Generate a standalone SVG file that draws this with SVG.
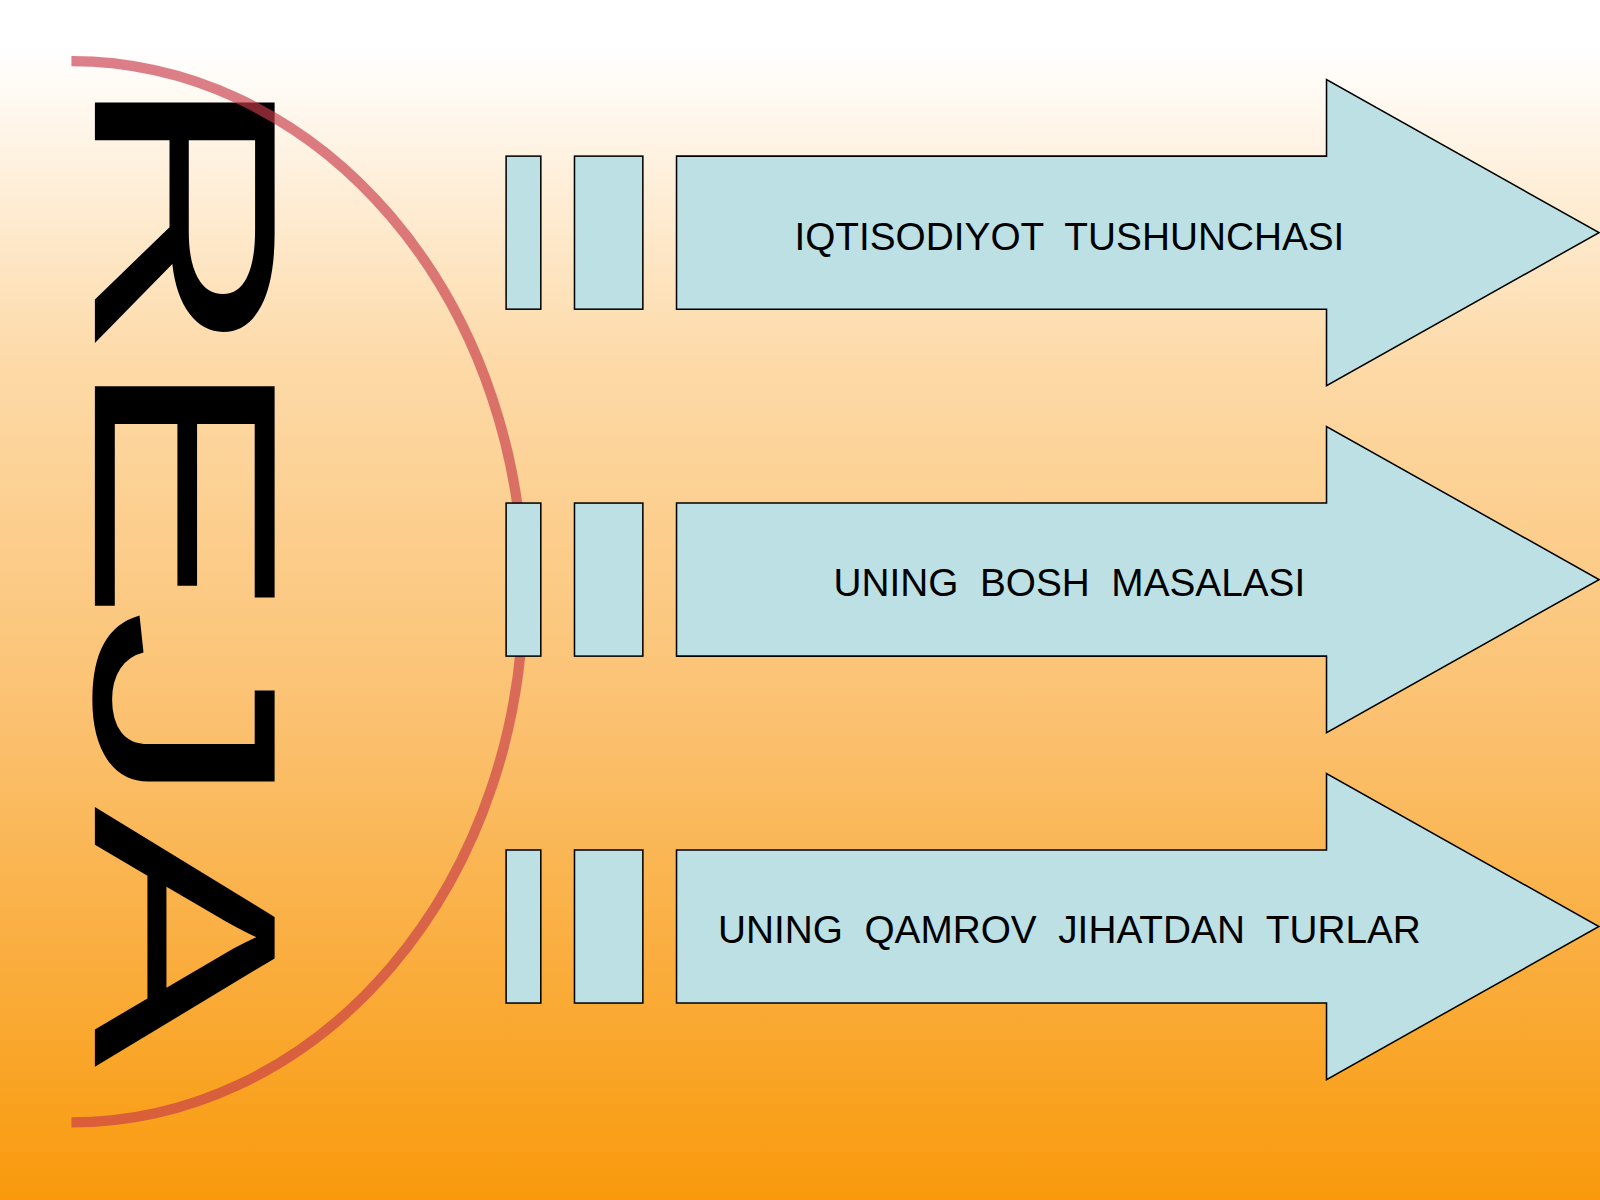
<svg xmlns="http://www.w3.org/2000/svg" width="1600" height="1200" viewBox="0 0 1600 1200">
<defs>
<linearGradient id="bg" x1="0" y1="0" x2="0" y2="1">
<stop offset="0" stop-color="#FFFFFF"/>
<stop offset="0.04" stop-color="#FFFFFF"/>
<stop offset="0.3" stop-color="#FDDAA8"/>
<stop offset="0.6" stop-color="#FBC170"/>
<stop offset="1" stop-color="#F99A0C"/>
</linearGradient>
<style>
.box{fill:#BCE0E4;stroke:#000;stroke-width:1.5}
.lbl{font-family:"Liberation Sans",Arial,sans-serif;font-size:38px;fill:#000;text-anchor:middle}
.big{font-family:"Liberation Sans",Arial,sans-serif;font-size:256px;fill:#000}
</style>
</defs>
<rect width="1600" height="1200" fill="url(#bg)"/>
<g transform="scale(1.0204)">
<g id="title">
<text class="big" transform="translate(93,68) rotate(90) scale(1.55,1)">R</text>
<text class="big" transform="translate(93,346) rotate(90) scale(1.55,1)">E</text>
<text class="big" transform="translate(93,597) rotate(90) scale(1.55,1)">J</text>
<text class="big" transform="translate(93,790) rotate(90) scale(1.5,1)">A</text>
</g>
<path id="arc" d="M70,60 A443,520 0 0 1 70,1100" fill="none" stroke="#C83A4A" stroke-opacity="0.65" stroke-width="10"/>
<g id="row1">
<rect class="box" x="496" y="153" width="34" height="150"/>
<rect class="box" x="563" y="153" width="67" height="150"/>
<path class="box" d="M663,153 H1300 V78 L1567,228 L1300,378 V303 H663 Z"/>
<text class="lbl" x="1048" y="245" xml:space="preserve">IQTISODIYOT  TUSHUNCHASI</text>
</g>
<g id="row2">
<rect class="box" x="496" y="493" width="34" height="150"/>
<rect class="box" x="563" y="493" width="67" height="150"/>
<path class="box" d="M663,493 H1300 V418 L1567,568 L1300,718 V643 H663 Z"/>
<text class="lbl" x="1048" y="584" xml:space="preserve">UNING  BOSH  MASALASI</text>
</g>
<g id="row3">
<rect class="box" x="496" y="833" width="34" height="150"/>
<rect class="box" x="563" y="833" width="67" height="150"/>
<path class="box" d="M663,833 H1300 V758 L1567,908 L1300,1058 V983 H663 Z"/>
<text class="lbl" x="1048" y="924" xml:space="preserve">UNING  QAMROV  JIHATDAN  TURLAR</text>
</g>
<g id="connectors"/>
</g>
</svg>
